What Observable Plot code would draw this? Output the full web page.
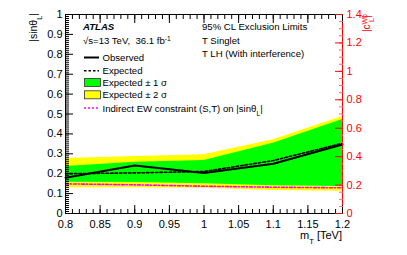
<!DOCTYPE html>
<html>
<head>
<meta charset="utf-8">
<script src="https://cdn.jsdelivr.net/npm/d3@7"></script>
<script src="https://cdn.jsdelivr.net/npm/@observablehq/plot@0.6"></script>
<style>
  html, body { margin: 0; padding: 0; background: #fff; }
  #chart svg { display: block; }
</style>
</head>
<body>
<div id="chart"></div>
<script>
// ---- data ----
const mass      = [0.8, 0.9, 1.0, 1.1, 1.2];
const observed  = [0.180, 0.241, 0.203, 0.250, 0.347];
const expected  = [0.200, 0.204, 0.211, 0.266, 0.353];
const exp1Lo    = [0.157, 0.156, 0.149, 0.140, 0.136];
const exp1Hi    = [0.236, 0.258, 0.266, 0.353, 0.472];
const exp2Lo    = [0.130, 0.129, 0.127, 0.116, 0.112];
const exp2Hi    = [0.276, 0.286, 0.295, 0.370, 0.487];
const indirectEW = [0.149, 0.144, 0.137, 0.132, 0.129];

const xDomain = [0.8, 1.2];
const yDomain = [0, 1];
const cMax = 1.4; // right axis |c_L^Wb| maximum
const xMajor = [0.8, 0.85, 0.9, 0.95, 1.0, 1.05, 1.1, 1.15, 1.2];
const xMinor = d3.range(80, 121).map(d => d / 100);
const yMajor = d3.range(0, 11).map(d => d / 10);
const yMinor = d3.range(0, 101).map(d => d / 100);
const cMajor = [0, 0.2, 0.4, 0.6, 0.8, 1.0, 1.2, 1.4];
const cMinor = d3.range(0, 29).map(d => d * 0.05);

const rows = mass.map((m, i) => ({
  m, obs: observed[i], exp: expected[i],
  lo1: exp1Lo[i], hi1: exp1Hi[i], lo2: exp2Lo[i], hi2: exp2Hi[i], ew: indirectEW[i]
}));

const fmt = d => String(+(+d).toFixed(2));
const toLeft = c => c / cMax;

const plot = Plot.plot({
  width: 407,
  height: 255,
  marginLeft: 65,
  marginRight: 65,
  marginTop: 14,
  marginBottom: 42,
  style: { fontFamily: "'Liberation Sans', Arial, sans-serif", fontSize: "11px", background: "white" },
  x: { domain: xDomain },
  y: { domain: yDomain },
  marks: [
    Plot.areaY(rows, { x: "m", y1: "lo2", y2: "hi2", fill: "#ffff00" }),
    Plot.areaY(rows, { x: "m", y1: "lo1", y2: "hi1", fill: "#00ff00" }),
    Plot.line(rows, { x: "m", y: "ew", stroke: "#ff00ff", strokeWidth: 1.6, strokeDasharray: "3,2,1,2" }),
    Plot.line(rows, { x: "m", y: "exp", stroke: "black", strokeWidth: 1.6, strokeDasharray: "2.5,2" }),
    Plot.line(rows, { x: "m", y: "obs", stroke: "black", strokeWidth: 2 }),
    Plot.frame({ stroke: "black" }),
    Plot.ruleX([xDomain[1]], { stroke: "#ff0000" }),
    // bottom x axis: inward ticks + labels
    Plot.axisX({ anchor: "bottom", ticks: xMinor, tickSize: 4, dy: -4, fill: "none", label: null }),
    Plot.axisX({ anchor: "bottom", ticks: xMajor, tickSize: 8, dy: -8, fill: "none", label: null }),
    Plot.axisX({ anchor: "bottom", ticks: xMajor, tickSize: 0, tickPadding: 7, tickFormat: fmt, label: null }),
    // top mirrored ticks
    Plot.axisX({ anchor: "top", ticks: xMinor, tickSize: 4, dy: 4, fill: "none", label: null }),
    Plot.axisX({ anchor: "top", ticks: xMajor, tickSize: 8, dy: 8, fill: "none", label: null }),
    // left y axis
    Plot.axisY({ anchor: "left", ticks: yMinor, tickSize: 4, dx: 4, fill: "none", label: null }),
    Plot.axisY({ anchor: "left", ticks: yMajor, tickSize: 8, dx: 8, fill: "none", label: null }),
    Plot.axisY({ anchor: "left", ticks: yMajor, tickSize: 0, tickPadding: 3, tickFormat: fmt, label: null }),
    // right red axis (|c_L^Wb|)
    Plot.axisY({ anchor: "right", ticks: cMinor.map(toLeft), tickSize: 4, dx: -4, fill: "none", stroke: "#ff6666", label: null }),
    Plot.axisY({ anchor: "right", ticks: cMajor.map(toLeft), tickSize: 8, dx: -8, fill: "none", stroke: "#ff0000", label: null }),
    Plot.axisY({ anchor: "right", ticks: cMajor.map(toLeft), tickSize: 0, tickPadding: 4, fill: "#ff0000",
                 tickFormat: d => fmt(d * cMax), label: null })
  ]
});

document.getElementById("chart").appendChild(plot);

// ---- annotations, titles and legend ----
const svg = d3.select(plot);
const font = "'Liberation Sans', Arial, sans-serif";
const g = svg.append("g").attr("font-family", font).attr("text-anchor", "start");

function addText(x, y, size, parts, opts = {}) {
  const t = g.append("text").attr("x", x).attr("y", y).attr("font-size", size)
    .attr("fill", opts.fill || "black")
    .attr("text-anchor", opts.anchor || "start");
  if (opts.transform) t.attr("transform", opts.transform).attr("x", 0).attr("y", 0);
  if (opts.weight) t.attr("font-weight", opts.weight);
  if (opts.style) t.attr("font-style", opts.style);
  for (const p of parts) {
    if (typeof p === "string") { t.append("tspan").text(p); continue; }
    const s = t.append("tspan").text(p.t);
    if (p.sub) s.attr("baseline-shift", "sub").attr("font-size", size * 0.7);
    if (p.sup) s.attr("baseline-shift", "super").attr("font-size", size * 0.7);
    if (p.dx !== undefined) s.attr("dx", p.dx);
  }
  return t;
}

const fs = 9.6;
addText(83, 30, fs, ["ATLAS"], { weight: "bold", style: "italic" });
addText(83, 44, fs, ["√s=13 TeV,  36.1 fb", { t: "-1", sup: true }]);
addText(202, 30, fs, ["95% CL Exclusion Limits"]);
addText(202, 44, fs, ["T Singlet"]);
addText(202, 57, fs, ["T LH (With interference)"]);

const legend = [
  { label: ["Observed"], y: 57.5, kind: "line", stroke: "black", width: 2, dash: null },
  { label: ["Expected"], y: 70.7, kind: "line", stroke: "black", width: 1.5, dash: "2.5,2" },
  { label: ["Expected ± 1 σ"], y: 82.5, kind: "box", fill: "#00ff00" },
  { label: ["Expected ± 2 σ"], y: 94.8, kind: "box", fill: "#ffff00" },
  { label: ["Indirect EW constraint (S,T) on |sinθ", { t: "L", sub: true }, "|"], y: 108, kind: "line", stroke: "#ff00ff", width: 1.5, dash: "2,2" }
];
for (const e of legend) {
  if (e.kind === "line") {
    g.append("line").attr("x1", 84).attr("x2", 99).attr("y1", e.y).attr("y2", e.y)
      .attr("stroke", e.stroke).attr("stroke-width", e.width).attr("stroke-dasharray", e.dash);
  } else {
    g.append("rect").attr("x", 84.5).attr("y", e.y - 4).attr("width", 16).attr("height", 8)
      .attr("fill", e.fill).attr("stroke", "#333").attr("stroke-width", 0.8);
  }
  addText(102.5, e.y + 3.5, fs, e.label);
}

// axis titles
addText(0, 0, 10.5, ["|sinθ", { t: "L", sub: true }, "|"], { anchor: "end", transform: "translate(37,13) rotate(-90)" });
addText(342, 239, 11, ["m", { t: "T", sub: true }, " [TeV]"], { anchor: "end" });
addText(0, 0, 10, ["|c", { t: "Wb", sup: true }, { t: "L", sub: true, dx: -8 }, "|"], { anchor: "end", fill: "#ff0000", transform: "translate(370,14) rotate(-90)" });
</script>
</body>
</html>
